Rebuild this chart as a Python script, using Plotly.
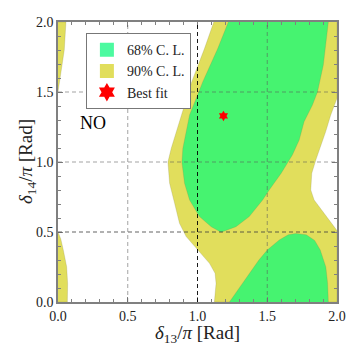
import plotly.graph_objects as go

# contour outlines (units of pi)
cl90_main_x = [1.117, 1.05, 0.959, 0.883, 0.812, 0.788, 0.80, 0.836, 0.871, 0.919, 1.002, 1.086,
               1.126, 1.133, 1.121, 2.0, 2.0, 1.943, 1.895, 1.836, 1.812, 1.819, 1.848, 1.872,
               1.895, 1.919, 1.955, 2.0, 2.0]
cl90_main_y = [2.0, 1.81, 1.574, 1.336, 1.098, 1.0, 0.848, 0.705, 0.562, 0.467, 0.371, 0.276,
               0.205, 0.133, 0.0, 0.0, 0.51, 0.586, 0.657, 0.729, 0.80, 0.919, 1.014, 1.08,
               1.157, 1.217, 1.336, 1.455, 2.0]
cl90_top_left_x = [0.0, 0.057, 0.045, 0.025, 0.0]
cl90_top_left_y = [2.0, 2.0, 1.80, 1.65, 1.50]
cl90_bot_left_x = [0.0, 0.02, 0.038, 0.062, 0.069, 0.067, 0.0]
cl90_bot_left_y = [0.5, 0.45, 0.371, 0.252, 0.133, 0.0, 0.0]

cl68_upper_x = [1.221, 1.145, 1.038, 0.943, 0.895, 0.888, 0.907, 0.943, 1.014, 1.098, 1.169,
                1.276, 1.371, 1.467, 1.514, 1.60, 1.68, 1.729, 1.764, 1.824, 1.86, 1.902, 1.938]
cl68_upper_y = [2.0, 1.81, 1.574, 1.336, 1.098, 1.0, 0.848, 0.729, 0.61, 0.538, 0.498,
                0.538, 0.61, 0.729, 0.80, 0.92, 1.05, 1.157, 1.288, 1.407, 1.50, 1.693, 2.0]
cl68_lower_x = [1.229, 1.30, 1.37, 1.44, 1.50, 1.586, 1.65, 1.705, 1.78, 1.84, 1.88, 1.92,
                1.933, 1.938]
cl68_lower_y = [0.0, 0.10, 0.20, 0.30, 0.371, 0.443, 0.48, 0.49, 0.48, 0.44, 0.371, 0.25,
                0.133, 0.0]

best_fit_x = [1.186]
best_fit_y = [1.329]

grid_vals = [0.5, 1.0, 1.5]
tick_vals = [0.0, 0.5, 1.0, 1.5, 2.0]
tick_text = ["0.0", "0.5", "1.0", "1.5", "2.0"]

x_title = "<i>δ</i><sub>13</sub>/<i>π</i> [Rad]"
y_title = "<i>δ</i><sub>14</sub>/<i>π</i> [Rad]"

GREEN = "rgb(70,243,112)"
YELLOW = "rgb(225,222,92)"
EDGE = "rgba(130,130,70,0.45)"
FONT = "Liberation Serif"


def join_pieces(*pieces):
    out = []
    for p in pieces:
        if out:
            out.append(None)
        out.extend(p)
    return out


fig = go.Figure()

fig.add_trace(go.Scatter(
    x=join_pieces(cl90_main_x, cl90_top_left_x, cl90_bot_left_x),
    y=join_pieces(cl90_main_y, cl90_top_left_y, cl90_bot_left_y),
    mode="lines", fill="toself", fillcolor=YELLOW,
    line=dict(color=EDGE, width=0.5), showlegend=False, hoverinfo="skip"))

fig.add_trace(go.Scatter(
    x=join_pieces(cl68_upper_x, cl68_lower_x),
    y=join_pieces(cl68_upper_y, cl68_lower_y),
    mode="lines", fill="toself", fillcolor=GREEN,
    line=dict(color=EDGE, width=0.5), showlegend=False, hoverinfo="skip"))

fig.add_trace(go.Scatter(
    x=best_fit_x, y=best_fit_y, mode="markers",
    marker=dict(symbol="hexagram", size=8, color="red", line=dict(width=0)),
    showlegend=False))

# legend entries
fig.add_trace(go.Scatter(x=[None], y=[None], mode="markers", name="68% C. L.",
                         marker=dict(symbol="square", size=14, color="rgb(76,250,160)")))
fig.add_trace(go.Scatter(x=[None], y=[None], mode="markers", name="90% C. L.",
                         marker=dict(symbol="square", size=14, color=YELLOW)))
fig.add_trace(go.Scatter(x=[None], y=[None], mode="markers", name="Best fit",
                         marker=dict(symbol="hexagram", size=14, color="red")))

# dashed reference lines drawn above the regions
for v in grid_vals:
    vcol = "rgba(0,0,0,0.9)" if v == 1.0 else "rgba(90,90,90,0.55)"
    hcol = "rgba(60,60,60,0.8)" if v == 0.5 else "rgba(90,90,90,0.55)"
    fig.add_shape(type="line", x0=v, x1=v, y0=0, y1=2, layer="above",
                  line=dict(color=vcol, width=1, dash="4px,3px"))
    fig.add_shape(type="line", x0=0, x1=2, y0=v, y1=v, layer="above",
                  line=dict(color=hcol, width=1, dash="4px,3px"))

fig.add_annotation(x=0.25, y=1.28, text="NO", showarrow=False,
                   font=dict(family=FONT, size=18, color="black"))

# axis titles as paper annotations for exact placement
fig.add_annotation(x=0.5, y=0, xref="paper", yref="paper", yshift=-32,
                   xanchor="center", yanchor="middle", text=x_title, showarrow=False,
                   font=dict(family=FONT, size=19, color="#222"))
fig.add_annotation(x=0, y=0.5, xref="paper", yref="paper", xshift=-31,
                   xanchor="center", yanchor="middle", textangle=-90, text=y_title,
                   showarrow=False, font=dict(family=FONT, size=19, color="#222"))

axis_common = dict(
    range=[0, 2], tickvals=tick_vals, ticktext=tick_text,
    showgrid=False, zeroline=False, automargin=False,
    showline=True, linecolor="#808080", linewidth=1.5, mirror="allticks",
    ticks="inside", ticklen=5, tickcolor="#808080", tickwidth=1,
    minor=dict(dtick=0.1, ticks="inside", ticklen=3, tickcolor="#808080"),
    tickfont=dict(family=FONT, size=14, color="#222"),
    layer="above traces",
)

# the page body adds an 8px margin on every side, so the figure is 338 square
fig.update_layout(
    width=338, height=338,
    margin=dict(l=50, r=9, t=14, b=44),
    paper_bgcolor="white", plot_bgcolor="white",
    xaxis=axis_common,
    yaxis=axis_common,
    legend=dict(x=0.1, y=0.96, xanchor="left", yanchor="top",
                bgcolor="white", bordercolor="#777", borderwidth=1,
                font=dict(family=FONT, size=14, color="#222"),
                itemsizing="trace", itemwidth=30, tracegroupgap=0),
    showlegend=True,
)

fig.write_html("out.html")
